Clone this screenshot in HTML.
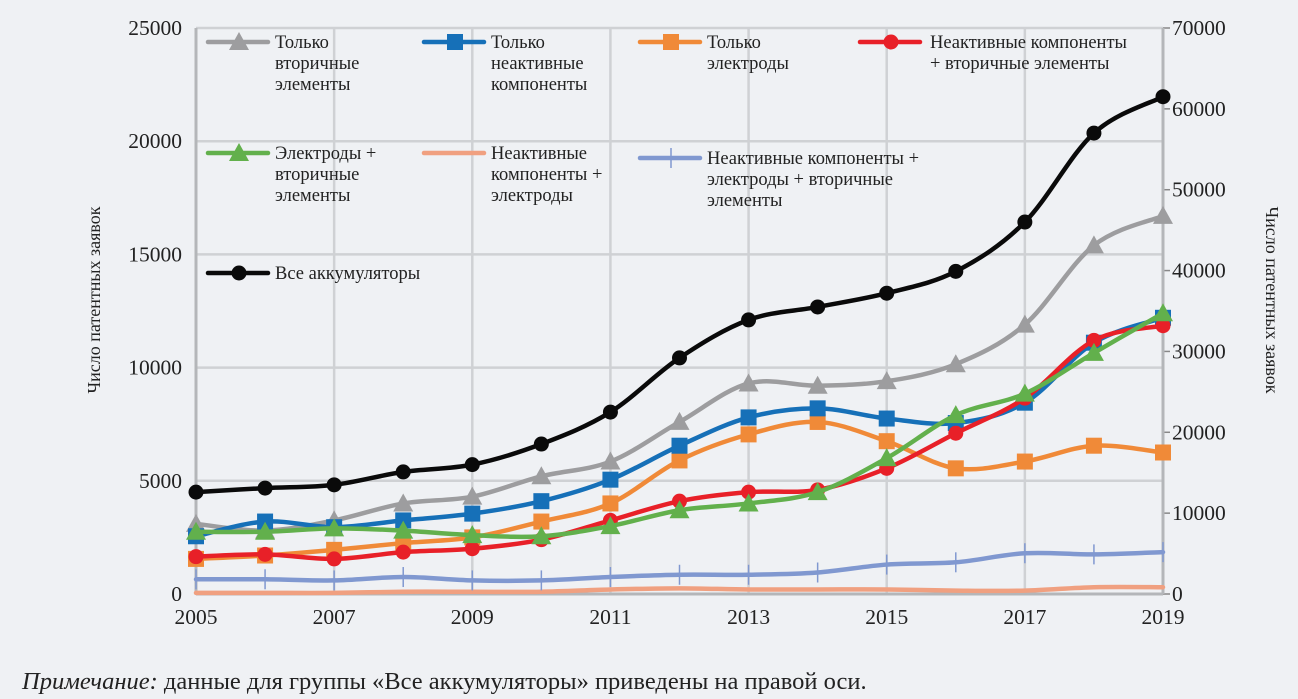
<!DOCTYPE html>
<html><head><meta charset="utf-8">
<style>
body{margin:0;background:#eff1f4;}
svg{display:block;font-family:"Liberation Serif","DejaVu Serif",serif;}
</style></head>
<body>
<svg id="chart" width="1298" height="699" viewBox="0 0 1298 699" xmlns="http://www.w3.org/2000/svg">
<rect width="1298" height="699" fill="#eff1f4"/>
<g id="grid"></g>
<g id="axes"></g>
<g id="series"></g>
<g id="legend"></g>
<text x="100" y="300" transform="rotate(-90 100 300)" text-anchor="middle" font-size="18" fill="#222">Число патентных заявок</text>
<text x="1266" y="300" transform="rotate(90 1266 300)" text-anchor="middle" font-size="18" fill="#222">Число патентных заявок</text>
<text x="22" y="689" font-size="24.5" fill="#222"><tspan font-style="italic">Примечание:</tspan> данные для группы «Все аккумуляторы» приведены на правой оси.</text>
</svg>
<script>
const years=[2005,2006,2007,2008,2009,2010,2011,2012,2013,2014,2015,2016,2017,2018,2019];
const leftTicks=[0,5000,10000,15000,20000,25000];
const rightTicks=[0,10000,20000,30000,40000,50000,60000,70000];
const xTicks=[2005,2007,2009,2011,2013,2015,2017,2019];
const secondaryOnly=[3100,2800,3250,4000,4300,5200,5850,7600,9300,9200,9400,10150,11900,15400,16700];
const inactiveOnly=[2550,3200,2950,3250,3550,4100,5050,6550,7800,8200,7750,7550,8450,11100,12200];
const electrodesOnly=[1550,1700,1950,2250,2500,3200,4000,5900,7050,7600,6750,5550,5850,6550,6250];
const inactivePlusSecondary=[1650,1750,1550,1850,2000,2400,3250,4100,4500,4600,5550,7100,8650,11200,11850];
const electrodesPlusSecondary=[2750,2750,2900,2800,2600,2550,3000,3700,4000,4500,6000,7900,8850,10650,12400];
const inactivePlusElectrodes=[50,50,50,100,100,100,200,250,200,200,200,150,150,300,300];
const allThree=[650,650,600,750,600,600,750,850,850,950,1300,1400,1800,1750,1850];
const allBatteries=[12600,13100,13500,15100,16000,18550,22500,29200,33900,35500,37200,39900,46000,57000,61500];

const NS="http://www.w3.org/2000/svg";
const X0=196,X1=1163,Y0=594,YT=28;
const x=y=>X0+(y-2005)*(X1-X0)/14;
const yL=v=>Y0-v*(Y0-YT)/25000;
const yR=v=>Y0-v*(Y0-YT)/70000;
function mk(tag,attrs,parent,text){const e=document.createElementNS(NS,tag);for(const k in attrs)e.setAttribute(k,attrs[k]);if(text!==undefined)e.textContent=text;parent.appendChild(e);return e;}
const grid=document.getElementById('grid'),axes=document.getElementById('axes'),ser=document.getElementById('series'),leg=document.getElementById('legend');

leftTicks.forEach(v=>{
 if(v>0){const l=mk('line',{x1:X0,x2:X1,y1:yL(v),y2:yL(v),stroke:'#cfd1d4','stroke-width':2.5},grid);
 
 }
 const t=mk('text',{x:182,y:yL(v)+7,'text-anchor':'end','font-size':21.5,fill:'#222'},axes,String(v));
 
 
});
xTicks.forEach(yr=>{
 if(yr>2005&&yr<2019){const l=mk('line',{x1:x(yr),x2:x(yr),y1:YT,y2:Y0,stroke:'#cfd1d4','stroke-width':2.5},grid);
 
 }
 const t=mk('text',{x:x(yr),y:624,'text-anchor':'middle','font-size':21.5,fill:'#222'},axes,String(yr));
 
 
});
rightTicks.forEach(v=>{
 const tk=mk('line',{x1:X1,x2:X1+7,y1:yR(v),y2:yR(v),stroke:'#888','stroke-width':1.5},axes);
 
 
 const t=mk('text',{x:X1+9,y:yR(v)+7,'font-size':21.5,fill:'#222'},axes,String(v));
 
 
});
const ax=[['left-axis',X0,YT,X0,Y0],['right-axis',X1,YT,X1,Y0],['x-axis',X0,Y0,X1,Y0]];
ax.forEach(a=>{const l=mk('line',{x1:a[1],y1:a[2],x2:a[3],y2:a[4],stroke:'#b4b6b9','stroke-width':3},axes);
 
 });

function smooth(pts){let d='M'+pts[0][0]+','+pts[0][1];
 for(let i=0;i<pts.length-1;i++){const p0=pts[i-1]||pts[i],p1=pts[i],p2=pts[i+1],p3=pts[i+2]||p2;
  const c1=[p1[0]+(p2[0]-p0[0])/6,p1[1]+(p2[1]-p0[1])/6],c2=[p2[0]-(p3[0]-p1[0])/6,p2[1]-(p3[1]-p1[1])/6];
  d+=' C'+c1[0]+','+c1[1]+' '+c2[0]+','+c2[1]+' '+p2[0]+','+p2[1];}
 return d;}
function marker(g,type,cx,cy,color){
 if(type==='tri')return mk('polygon',{points:(cx-10)+','+(cy+8)+' '+(cx+10)+','+(cy+8)+' '+cx+','+(cy-10),fill:color},g);
 if(type==='sq')return mk('rect',{x:cx-8,y:cy-8,width:16,height:16,fill:color},g);
 if(type==='circ')return mk('circle',{cx:cx,cy:cy,r:7.5,fill:color},g);
 if(type==='tick')return mk('line',{x1:cx,x2:cx,y1:cy-10,y2:cy+10,stroke:color,'stroke-width':1.5},g);
 return null;}
const series=[
 ['inactive-plus-electrodes',inactivePlusElectrodes,'#f0a080','none',yL],
 ['all-three',allThree,'#8098d0','tick',yL],
 ['secondary-only',secondaryOnly,'#9d9d9f','tri',yL],
 ['electrodes-only',electrodesOnly,'#f08a38','sq',yL],
 ['inactive-only',inactiveOnly,'#1670b8','sq',yL],
 ['inactive-plus-secondary',inactivePlusSecondary,'#e82028','circ',yL],
 ['electrodes-plus-secondary',electrodesPlusSecondary,'#62b04c','tri',yL],
 ['all-batteries',allBatteries,'#0a0a0a','circ',yR]];
series.forEach(s=>{
 const g=mk('g',{},ser);
 
 
 const pts=s[1].map((v,i)=>[x(years[i]),s[4](v)]);
 const p=mk('path',{d:smooth(pts),fill:'none',stroke:s[2],'stroke-width':4.5,'stroke-linecap':'round'},g);
 
 
 pts.forEach((q,i)=>{const m=marker(g,s[3],q[0],q[1],s[2]);
  if(m){
  }});
});
const legendItems=[
 [208,42,'#9d9d9f','tri',['Только','вторичные','элементы']],
 [424,42,'#1670b8','sq',['Только','неактивные','компоненты']],
 [640,42,'#f08a38','sq',['Только','электроды']],
 [860,42,'#e82028','circ',['Неактивные компоненты','+ вторичные элементы']],
 [208,153,'#62b04c','tri',['Электроды +','вторичные','элементы']],
 [424,153,'#f0a080','none',['Неактивные','компоненты +','электроды']],
 [640,158,'#8098d0','tick',['Неактивные компоненты +','электроды + вторичные','элементы']],
 [208,273,'#0a0a0a','circ',['Все аккумуляторы']]];
legendItems.forEach((it,k)=>{
 const g=mk('g',{},leg);
 
 
 mk('line',{x1:it[0],x2:it[0]+60,y1:it[1],y2:it[1],stroke:it[2],'stroke-width':4.5,'stroke-linecap':'round'},g);
 marker(g,it[3],it[0]+31,it[1],it[2]);
 const tx=it[0]+(k===3?70:67);
 it[4].forEach((ln,j)=>mk('text',{x:tx,y:it[1]+6+j*21,'font-size':18.5,fill:'#222'},g,ln));
});
</script>
</body></html>
